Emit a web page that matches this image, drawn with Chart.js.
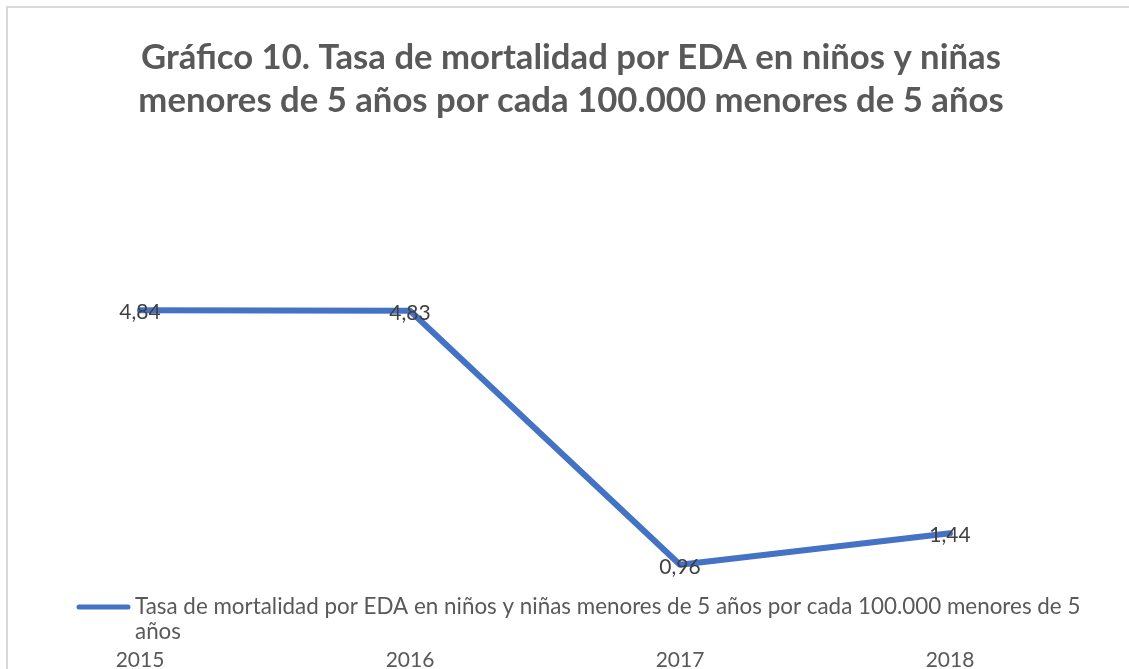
<!DOCTYPE html>
<html>
<head>
<meta charset="utf-8">
<script src="https://cdn.jsdelivr.net/npm/chart.js@4/dist/chart.umd.min.js"></script>
<style>
html,body{margin:0;padding:0;background:#fff;overflow:hidden;}
#wrap{position:relative;width:1129px;height:701px;}
</style>
</head>
<body>
<div id="wrap"><canvas id="c" width="1129" height="701"></canvas></div>
<script>
const years = ['2015', '2016', '2017', '2018'];
const rates = [4.84, 4.83, 0.96, 1.44];
const seriesName = 'Tasa de mortalidad por EDA en niños y niñas menores de 5 años por cada 100.000 menores de 5 años';
const titleLines = ['Gráfico 10. Tasa de mortalidad por EDA en niños y niñas', 'menores de 5 años por cada 100.000 menores de 5 años'];

const FONT = 'Lato, "Open Sans", "Liberation Sans", sans-serif';
const BLUE = '#4472C4';

const frame = {
  id: 'frame',
  beforeDraw(chart) {
    const ctx = chart.ctx;
    ctx.save();
    ctx.fillStyle = '#fff';
    ctx.fillRect(0, 0, chart.width, chart.height);
    ctx.strokeStyle = '#d9d9d9';
    ctx.lineWidth = 2;
    ctx.beginPath();
    ctx.moveTo(7, chart.height);
    ctx.lineTo(7, 7);
    ctx.lineTo(chart.width, 7);
    ctx.stroke();
    ctx.restore();
  }
};

const titleDraw = {
  id: 'titleDraw',
  afterDraw(chart) {
    const ctx = chart.ctx;
    ctx.save();
    ctx.font = 'bold 34.7px ' + FONT;
    ctx.fillStyle = '#595959';
    ctx.textAlign = 'center';
    ctx.textBaseline = 'middle';
    titleLines.forEach((t, i) => ctx.fillText(t, 571, 58 + i * 43));
    ctx.restore();
  }
};

const valueLabels = {
  id: 'valueLabels',
  afterDatasetsDraw(chart) {
    const ctx = chart.ctx;
    const meta = chart.getDatasetMeta(0);
    ctx.save();
    ctx.font = '21px ' + FONT;
    ctx.fillStyle = '#404040';
    ctx.textAlign = 'center';
    ctx.textBaseline = 'middle';
    meta.data.forEach((pt, i) => {
      const v = chart.data.datasets[0].data[i];
      ctx.fillText(v.toFixed(2).replace('.', ','), pt.x, pt.y + 2);
    });
    ctx.restore();
  }
};

const legendDraw = {
  id: 'legendDraw',
  afterDraw(chart) {
    const ctx = chart.ctx;
    ctx.save();
    ctx.strokeStyle = BLUE;
    ctx.lineWidth = 5;
    ctx.lineCap = 'round';
    ctx.beginPath();
    ctx.moveTo(79, 607);
    ctx.lineTo(128, 607);
    ctx.stroke();
    ctx.font = '22.4px ' + FONT;
    ctx.fillStyle = '#595959';
    ctx.textAlign = 'left';
    ctx.textBaseline = 'middle';
    const words = seriesName.split(' ');
    const first = words.slice(0, words.length - 1).join(' ');
    const second = words[words.length - 1];
    ctx.fillText(first, 135, 607);
    ctx.fillText(second, 135, 632);
    ctx.restore();
  }
};

new Chart(document.getElementById('c'), {
  type: 'line',
  data: {
    labels: years,
    datasets: [{
      label: seriesName,
      data: rates,
      borderColor: BLUE,
      backgroundColor: BLUE,
      borderWidth: 6,
      pointRadius: 0,
      tension: 0,
      borderCapStyle: 'round',
      borderJoinStyle: 'round'
    }]
  },
  options: {
    responsive: false,
    animation: false,
    layout: { padding: { left: 5, right: 44, top: 234, bottom: 8 } },
    plugins: {
      legend: { display: false },
      tooltip: { enabled: false },
      title: { display: false }
    },
    scales: {
      x: {
        offset: true,
        grid: { display: false, drawTicks: false },
        border: { display: false },
        ticks: { color: '#595959', font: { family: FONT, size: 21 }, padding: 20 }
      },
      y: {
        display: false,
        min: 0,
        max: 6
      }
    }
  },
  plugins: [frame, titleDraw, valueLabels, legendDraw]
});
</script>
</body>
</html>
